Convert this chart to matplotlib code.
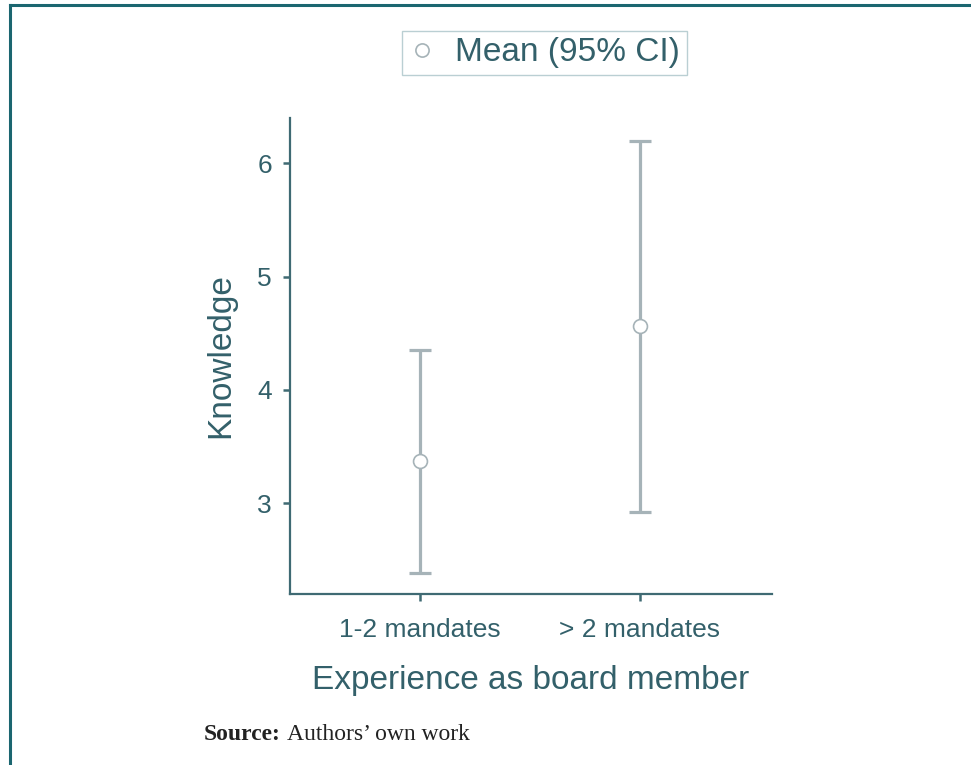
import matplotlib
matplotlib.use("Agg")
import matplotlib.pyplot as plt
from matplotlib.lines import Line2D

# Knowledge by board-member experience: means with 95% confidence intervals
groups = ["1-2 mandates", "> 2 mandates"]
means = [3.37, 4.56]
ci_low = [2.38, 2.92]
ci_high = [4.35, 6.20]
y_ticks = [3, 4, 5, 6]

TEXT = "#33606a"
SPINE = "#3f6a73"
BAR = "#a6b3b8"
FRAME = "#1b6670"

plt.rcParams["font.family"] = ["Liberation Sans", "DejaVu Sans"]

fig = plt.figure(figsize=(9.71, 7.65), dpi=100)
ax = fig.add_axes([0.2987, 0.2235, 0.4964, 0.6223])

x = list(range(len(groups)))
yerr = [[m - lo for m, lo in zip(means, ci_low)],
        [hi - m for m, hi in zip(means, ci_high)]]
ax.errorbar(x, means, yerr=yerr, fmt="none", ecolor=BAR, elinewidth=2.3,
            capsize=8, capthick=2.3, zorder=2)
ax.plot(x, means, "o", ms=10, mfc="white", mec=BAR, mew=1.2, zorder=3)

ax.set_xlim(-0.59, 1.6)
ax.set_ylim(2.197, 6.40)
ax.set_xticks(x)
ax.set_xticklabels(groups)
ax.set_yticks(y_ticks)

for side in ("top", "right"):
    ax.spines[side].set_visible(False)
for side in ("left", "bottom"):
    ax.spines[side].set_color(SPINE)
    ax.spines[side].set_linewidth(1.6)

ax.tick_params(axis="both", colors=SPINE, labelcolor=TEXT, labelsize=19,
               length=5, width=1.8, direction="out", pad=8)
ax.tick_params(axis="x", pad=12)
ax.set_xlabel("Experience as board member", fontsize=24, color=TEXT, labelpad=17)
ax.set_ylabel("Knowledge", fontsize=24, color=TEXT, labelpad=15)

handle = Line2D([], [], marker="o", ls="none", ms=9.5, mfc="white", mec=BAR, mew=1.2)
leg = fig.legend([handle], ["Mean (95% CI)"], loc="center",
                 bbox_to_anchor=(0.5605, 0.931), fontsize=24, frameon=True,
                 fancybox=False, handlelength=0.8, handletextpad=0.6,
                 borderpad=0.2, borderaxespad=0.0)
leg.get_frame().set_edgecolor("#a9c4c8")
leg.get_frame().set_linewidth(1.0)
for t in leg.get_texts():
    t.set_color(TEXT)

# source note
fig.text(204 / 971, 1 - 740 / 765, "Source:", fontsize=17, fontweight="bold",
         family="Liberation Serif", color="#222222", ha="left", va="baseline")
fig.text(287 / 971, 1 - 740 / 765, "Authors\u2019 own work", fontsize=17,
         family="Liberation Serif", color="#222222", ha="left", va="baseline")

# page frame: top rule and left rule
fig.add_artist(Line2D([10 / 971, 1.0], [1 - 5 / 765, 1 - 5 / 765],
                      transform=fig.transFigure, color=FRAME, lw=2.2))
fig.add_artist(Line2D([10 / 971, 10 / 971], [0.0, 1 - 5 / 765],
                      transform=fig.transFigure, color=FRAME, lw=2.2))

fig.savefig("out.png", dpi=100, facecolor="white")
